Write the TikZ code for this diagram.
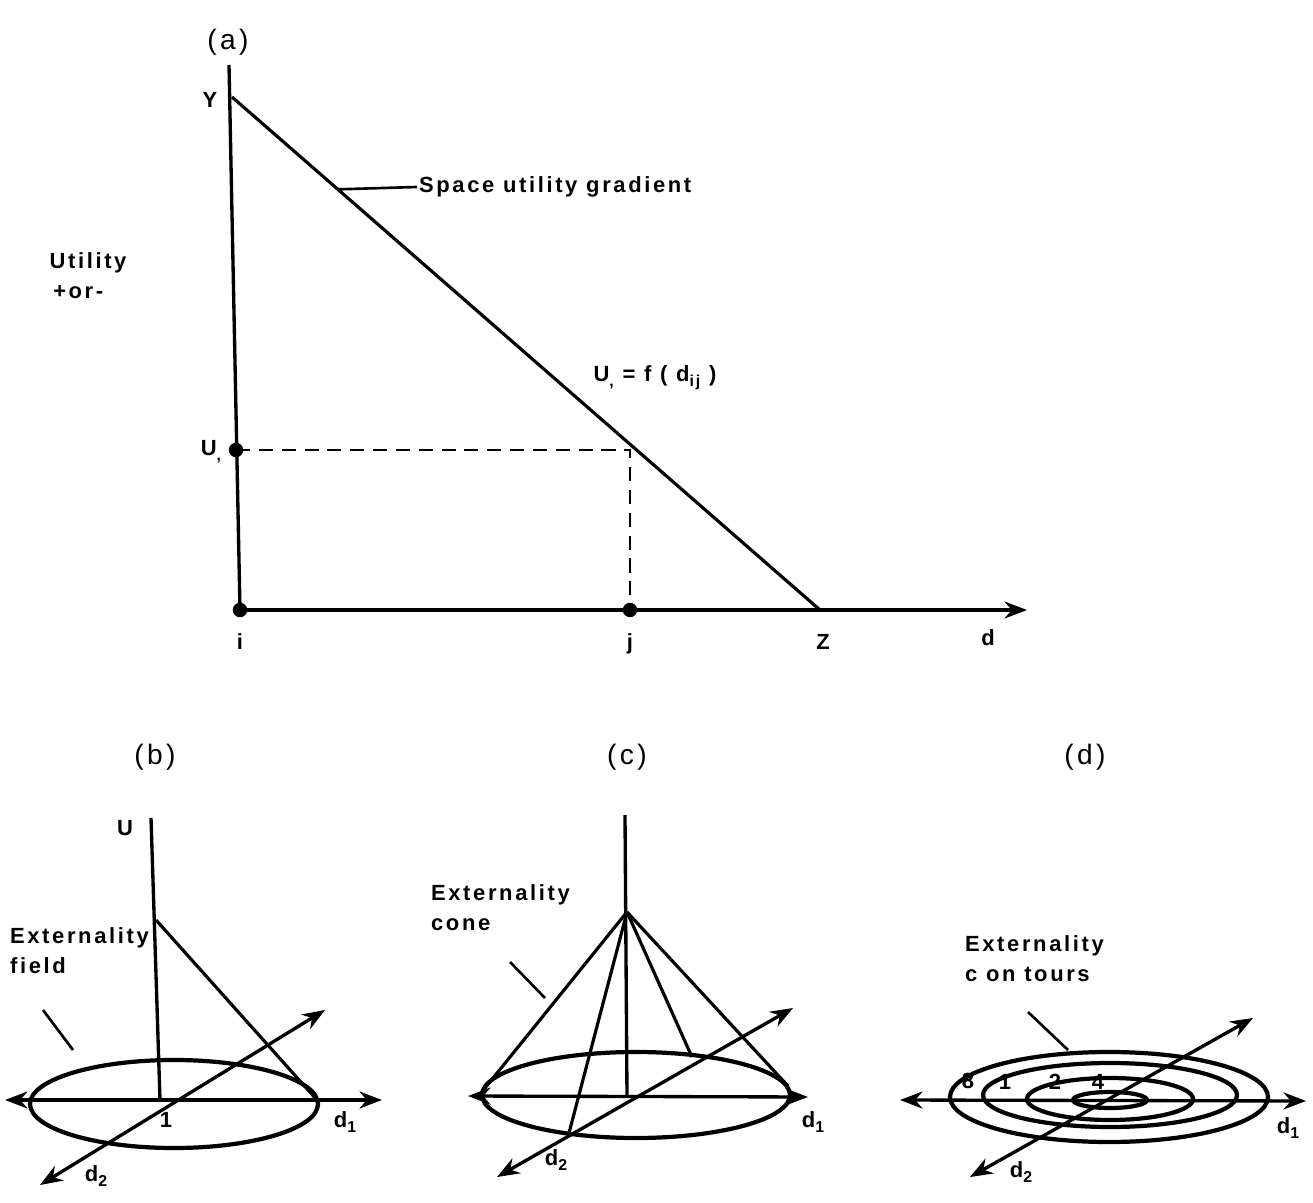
\documentclass[tikz,border=0pt]{standalone}
\usepackage{fontspec}
\setmainfont{Liberation Sans}
\newfontfamily\lblfont[LetterSpace=12]{Liberation Sans}
\usetikzlibrary{arrows.meta,calc}
\newcommand\lowsub[2]{#1\raisebox{-.45ex}{\fontsize{9}{9}\selectfont#2}}
\tikzset{
  axis/.style={line width=1.9pt},
  axis-arrow/.style={axis,-{Stealth[length=4.5mm,width=3.4mm]}},
  axis-both/.style={axis,{Stealth[length=4.5mm,width=3.4mm]}-{Stealth[length=4.5mm,width=3.4mm]}},
  gradient/.style={line width=1.8pt},
  guide/.style={line width=1.6pt,dash pattern=on 8pt off 5pt},
  field/.style={line width=2.4pt},
  leader/.style={line width=1.5pt},
  lbl/.style={font=\lblfont\bfseries\fontsize{12.5}{17}\selectfont,inner sep=1pt,align=left},
  panel/.style={font=\lblfont\fontsize{16}{18}\selectfont,inner sep=1pt},
  dot/.style={circle,fill,inner sep=0pt,minimum size=2.9mm},
}
\begin{document}
\begin{tikzpicture}[x=0.02cm,y=-0.02cm]
  \useasboundingbox (0,0) rectangle (1313,1203);
  % (a) space utility gradient
  \node[panel] (aLbl) at (228,42) {(a)};
  \coordinate (yTop) at (229,65);
  \coordinate (Y) at (232,97);
  \coordinate (Z) at (820,610);
  \coordinate (dEnd) at (1027,610);
  \coordinate (Uj) at (630,450);
  \node[dot] (i) at (240,610) {};
  \node[dot] (Ui) at (236,450) {};
  \node[dot] (j) at (630,610) {};
  \draw[axis] (yTop) -- (i.center);
  \draw[axis-arrow] (i.center) -- (dEnd);
  \draw[gradient] (Y) -- (Z);
  \draw[guide] (Ui.center) -- (Uj) -- (j.center);
  \coordinate (gLead) at ($(Y)!0.18!(Z)$);
  \node[lbl,anchor=west] (gradLbl) at (417,187) {Space utility gradient};
  \draw[leader] (gLead) -- (gradLbl.west);
  \node[lbl] (yLbl) at (210,100) {Y};
  \node[lbl] (utilLbl) at (88,276) {Utility\\\,+or-};
  \node[lbl] (uiLbl) at (211,452) {\lowsub{U}{,}};
  \node[lbl] (fLbl) at (655,378) {\lowsub{U}{,} = f ( \lowsub{d}{ij} )};
  \node[lbl] (iLbl) at (240,642) {i};
  \node[lbl] (jLbl) at (630,644) {j};
  \node[lbl] (zLbl) at (823,642) {Z};
  \node[lbl] (dLbl) at (988,638) {d};

  % (b) externality field
  \node[panel] (bLbl) at (155,757) {(b)};
  \node[lbl] (bU) at (125,828) {U};
  \coordinate (bTop) at (151,818);
  \coordinate (bO) at (160,1100);
  \coordinate (bApex) at (156,920);
  \coordinate (bRight) at (317,1100);
  \coordinate (bL) at (5,1100);
  \coordinate (bR) at (382,1100);
  \coordinate (bD2a) at (40,1185);
  \coordinate (bD2b) at (325,1010);
  \draw[field] (174,1104) ellipse [x radius=144,y radius=44];
  \draw[axis] (bTop) -- (bO);
  \draw[axis-both] (bL) -- (bR);
  \draw[axis-both] (bD2a) -- (bD2b);
  \draw[gradient] (bApex) -- (bRight);
  \node[lbl,anchor=west] (bField) at (8,951) {Externality\\field};
  \coordinate (bLeadA) at (43,1010);
  \coordinate (bLeadB) at (73,1050);
  \draw[leader] (bLeadA) -- (bLeadB);
  \node[lbl] (bOne) at (166,1120) {1};
  \node[lbl] (bD1) at (345,1122) {\lowsub{d}{1}};
  \node[lbl] (bD2) at (96,1176) {\lowsub{d}{2}};

  % (c) externality cone
  \node[panel] (cLbl) at (627,757) {(c)};
  \coordinate (cTop) at (625,815);
  \coordinate (cApex) at (627,912);
  \coordinate (cO) at (627,1096);
  \coordinate (cL) at (468,1096);
  \coordinate (cR) at (808,1097);
  \coordinate (cD2a) at (497,1177);
  \coordinate (cD2b) at (793,1008);
  \coordinate (cLeft) at (485,1088);
  \coordinate (cRight) at (788,1086);
  \coordinate (cFront) at (569,1133);
  \coordinate (cBack) at (692,1057);
  \draw[field] (636,1095) ellipse [x radius=154,y radius=43];
  \draw[axis] (cTop) -- (cO);
  \draw[axis-both] (cL) -- (cR);
  \draw[axis-both] (cD2a) -- (cD2b);
  \foreach \p in {cLeft,cRight,cFront,cBack}
    \draw[gradient] (cApex) -- (\p);
  \node[lbl,anchor=west] (cCone) at (429,908) {Externality\\cone};
  \coordinate (cLeadA) at (510,962);
  \coordinate (cLeadB) at (545,998);
  \draw[leader] (cLeadA) -- (cLeadB);
  \node[lbl] (cD1) at (813,1122) {\lowsub{d}{1}};
  \node[lbl] (cD2) at (556,1160) {\lowsub{d}{2}};

  % (d) externality contours
  \node[panel] (dPLbl) at (1085,757) {(d)};
  \coordinate (dL) at (900,1100);
  \coordinate (dR) at (1306,1101);
  \coordinate (dD2a) at (970,1177);
  \coordinate (dD2b) at (1253,1018);
  \draw[field] (1109,1097) ellipse [x radius=159,y radius=45];
  \draw[field] (1110,1095) ellipse [x radius=127,y radius=32];
  \draw[field] (1110,1099) ellipse [x radius=83,y radius=21];
  \draw[field] (1110,1100) ellipse [x radius=37,y radius=8];
  \draw[axis-both] (dL) -- (dR);
  \draw[axis-both] (dD2a) -- (dD2b);
  \node[lbl,anchor=west] (dCont) at (963,959) {Externality\\c on tours};
  \coordinate (dLeadA) at (1028,1012);
  \coordinate (dLeadB) at (1068,1050);
  \draw[leader] (dLeadA) -- (dLeadB);
  \node[lbl] (dEight) at (968,1081) {8};
  \node[lbl] (dOne) at (1005,1082) {1};
  \node[lbl] (dTwo) at (1055,1082) {2};
  \node[lbl] (dFour) at (1098,1082) {4};
  \node[lbl] (dD1) at (1288,1128) {\lowsub{d}{1}};
  \node[lbl] (dD2) at (1021,1172) {\lowsub{d}{2}};
\end{tikzpicture}
\end{document}
